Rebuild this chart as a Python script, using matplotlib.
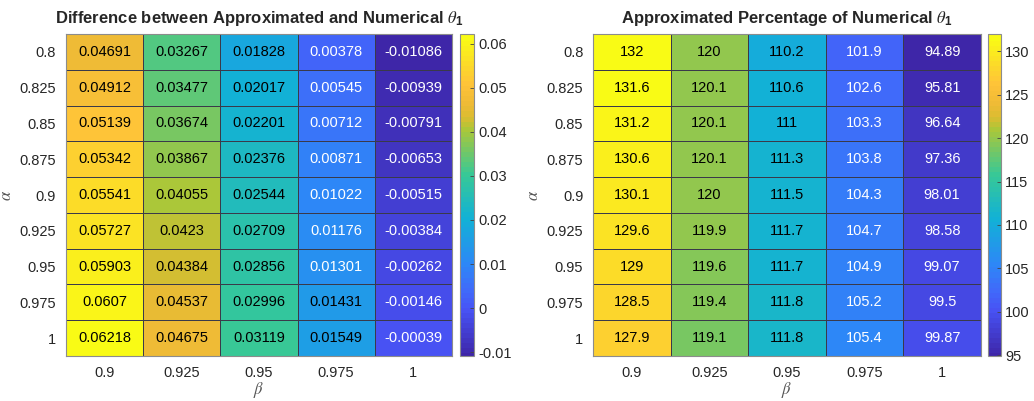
import numpy as np
import matplotlib
matplotlib.use("Agg")
import matplotlib.pyplot as plt
from matplotlib.colors import LinearSegmentedColormap, ListedColormap

plt.rcParams['font.family'] = ['Liberation Sans', 'DejaVu Sans']
plt.rcParams['mathtext.fontset'] = 'custom'
plt.rcParams['mathtext.it'] = 'STIXGeneral:italic'
plt.rcParams['mathtext.rm'] = 'Liberation Sans'
plt.rcParams['mathtext.bf'] = 'Liberation Sans:bold'

alpha_labels = ['0.8', '0.825', '0.85', '0.875', '0.9', '0.925', '0.95', '0.975', '1']
beta_labels = ['0.9', '0.925', '0.95', '0.975', '1']

# rows = alpha, columns = beta
diff_vals = np.array([
    [0.04691, 0.03267, 0.01828, 0.00378, -0.01086],
    [0.04912, 0.03477, 0.02017, 0.00545, -0.00939],
    [0.05139, 0.03674, 0.02201, 0.00712, -0.00791],
    [0.05342, 0.03867, 0.02376, 0.00871, -0.00653],
    [0.05541, 0.04055, 0.02544, 0.01022, -0.00515],
    [0.05727, 0.0423, 0.02709, 0.01176, -0.00384],
    [0.05903, 0.04384, 0.02856, 0.01301, -0.00262],
    [0.0607, 0.04537, 0.02996, 0.01431, -0.00146],
    [0.06218, 0.04675, 0.03119, 0.01549, -0.00039],
])

pct_vals = np.array([
    [132, 120, 110.2, 101.9, 94.89],
    [131.6, 120.1, 110.6, 102.6, 95.81],
    [131.2, 120.1, 111, 103.3, 96.64],
    [130.6, 120.1, 111.3, 103.8, 97.36],
    [130.1, 120, 111.5, 104.3, 98.01],
    [129.6, 119.9, 111.7, 104.7, 98.58],
    [129, 119.6, 111.7, 104.9, 99.07],
    [128.5, 119.4, 111.8, 105.2, 99.5],
    [127.9, 119.1, 111.8, 105.4, 99.87],
])

diff_ticks = [-0.01, 0, 0.01, 0.02, 0.03, 0.04, 0.05, 0.06]
pct_ticks = [95, 100, 105, 110, 115, 120, 125, 130]

# parula-like colormap, 64 steps like matlab
parula_pts = [
    (0.0, (0.2422, 0.1504, 0.6603)),
    (0.143, (0.2810, 0.3228, 0.9579)),
    (0.2, (0.255, 0.41, 0.98)),
    (0.286, (0.1786, 0.5289, 0.9682)),
    (0.429, (0.0689, 0.6948, 0.8394)),
    (0.571, (0.2161, 0.7843, 0.5923)),
    (0.714, (0.6720, 0.7793, 0.2227)),
    (0.75, (0.85, 0.74, 0.19)),
    (0.79, (0.93, 0.73, 0.21)),
    (0.857, (0.9970, 0.7659, 0.2199)),
    (1.0, (0.9769, 0.9839, 0.0805)),
]
smooth = LinearSegmentedColormap.from_list('parula_s', parula_pts, N=256)
parula = ListedColormap(smooth(np.linspace(0, 1, 64)))

txt_col = '#262626'
grid_col = '#3a3a4a'


def heat(ax, cax, vals, fmt, ticks, title):
    vmin, vmax = vals.min(), vals.max()
    nr, nc = vals.shape
    im = ax.pcolormesh(np.arange(nc + 1) - 0.5, np.arange(nr + 1) - 0.5, vals,
                       cmap=parula, vmin=vmin, vmax=vmax,
                       edgecolors=grid_col, linewidth=0.6)
    ax.set_xlim(-0.5, nc - 0.5)
    ax.set_ylim(nr - 0.5, -0.5)
    for i in range(nr):
        for j in range(nc):
            r, g, b, _ = parula((vals[i, j] - vmin) / (vmax - vmin))
            lum = 0.2126 * r + 0.7152 * g + 0.0722 * b
            c = 'black' if lum > 0.515 else 'white'
            ax.text(j, i, fmt(vals[i, j]), ha='center', va='center',
                    fontsize=10.5, color=c)
    ax.set_xticks(range(nc))
    ax.set_xticklabels(beta_labels)
    ax.set_yticks(range(nr))
    ax.set_yticklabels(alpha_labels)
    ax.tick_params(length=0, labelsize=10.5, labelcolor=txt_col, pad=7)
    for s in ax.spines.values():
        s.set_color('#8c8c8c')
        s.set_linewidth(0.8)
    ax.set_xlabel(r'$\beta$', fontsize=12, color='#555555', labelpad=0)
    ax.set_ylabel(r'$\alpha$', fontsize=12, color='#555555', labelpad=4)
    ax.set_title(title, fontsize=12, fontweight='bold', color=txt_col, pad=8)
    cb = plt.colorbar(im, cax=cax)
    cb.set_ticks(ticks)
    cb.set_ticklabels(['%g' % t for t in ticks])
    cb.ax.tick_params(direction='in', length=3, width=0.6, labelsize=10.5,
                      labelcolor=txt_col, color='#444444', pad=3)
    cb.outline.set_edgecolor('#8c8c8c')
    cb.outline.set_linewidth(0.8)
    cb.solids.set_edgecolor('face')


fig = plt.figure(figsize=(10.34, 4.01), dpi=100)
ax1 = fig.add_axes([0.0638, 0.1122, 0.3733, 0.803])
cax1 = fig.add_axes([0.4449, 0.1122, 0.0135, 0.803])
ax2 = fig.add_axes([0.5735, 0.1122, 0.3752, 0.803])
cax2 = fig.add_axes([0.9555, 0.1122, 0.0126, 0.803])

theta = r'$\mathit{\theta}_{\mathbf{1}}$'
heat(ax1, cax1, diff_vals, lambda v: '%.4g' % v if abs(v) >= 0.01 else '%.3g' % v,
     diff_ticks, 'Difference between Approximated and Numerical ' + theta)
heat(ax2, cax2, pct_vals, lambda v: '%.4g' % v, pct_ticks,
     'Approximated Percentage of Numerical ' + theta)

fig.savefig('out.png', dpi=100)
